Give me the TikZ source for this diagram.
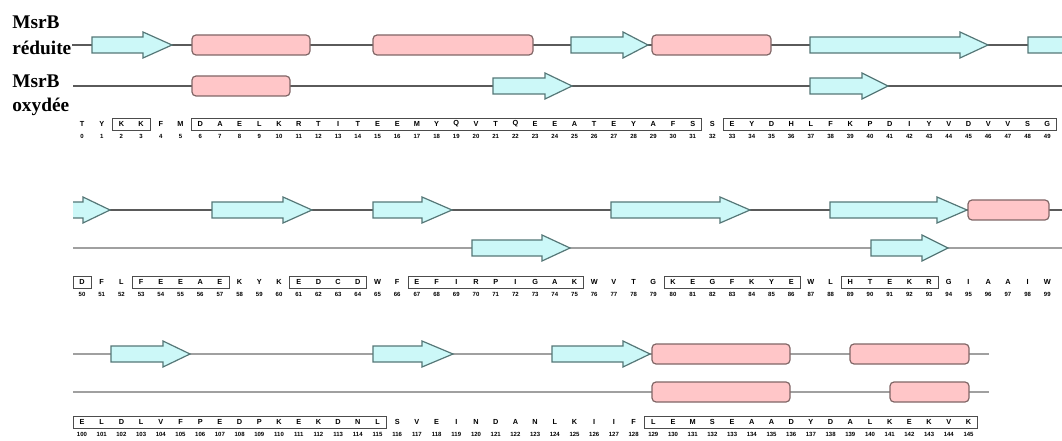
\documentclass[tikz,border=0pt]{standalone}
\usepackage{fontspec}
\setmainfont{Liberation Serif}
\newfontfamily\seqfont{Liberation Sans}
\definecolor{strandfill}{HTML}{CCF8F8}
\definecolor{strandline}{HTML}{557777}
\definecolor{helixfill}{HTML}{FFC6C8}
\definecolor{helixline}{HTML}{806666}
\definecolor{trackdark}{HTML}{5A5A5A}
\definecolor{tracklight}{HTML}{A0A0A0}
% x1, end of body, tip, track
\newcommand\strand[4]{\filldraw[strand] (#1,#4-8) -- (#2,#4-8) -- (#2,#4-13) -- (#3,#4) -- (#2,#4+13) -- (#2,#4+8) -- (#1,#4+8) -- cycle;}
\newcommand\helix[3]{\filldraw[helix] (#1,#3-10) rectangle (#2,#3+10);}
\newcommand\seqbox[2]{\draw[resbox] ({82+19.7*#1-9},\seqy-6) rectangle ({82+19.7*#2+9},\seqy+6);}
\newcommand\seqrow[4]{%
  \def\seqy{#2}%
  \foreach \aa [count=\i from 0] in {#4} {
    \pgfmathtruncatemacro\resnum{#3+\i}
    \node[res] (aa#1-\i) at ({82+19.7*\i},#2) {\aa};
    \node[num] (nb#1-\i) at ({82+19.7*\i},#2+12) {\resnum};
  }}
\begin{document}
\begin{tikzpicture}[x=0.75pt, y=-0.75pt,
  lab/.style={font=\fontsize{14.5}{16}\selectfont\bfseries, inner sep=0pt, anchor=base west},
  track/.style={trackdark, line width=0.9pt},
  lighttrack/.style={tracklight, line width=1.6pt},
  strand/.style={fill=strandfill, draw=strandline, line width=0.9pt, line join=miter},
  helix/.style={fill=helixfill, draw=helixline, line width=0.9pt, rounded corners=3pt},
  res/.style={font=\seqfont\bfseries\fontsize{5.5}{6}\selectfont, inner sep=0pt},
  num/.style={font=\seqfont\bfseries\fontsize{4.5}{5}\selectfont, inner sep=0pt},
  resbox/.style={draw=black!70, line width=0.6pt}]
\useasboundingbox (0,0) rectangle (1062,441);
\clip (0,0) rectangle (1062,441);
\node[lab] (red1) at (12,29) {MsrB};
\node[lab] (red2) at (12,55) {réduite};
\node[lab] (ox1) at (12,88) {MsrB};
\node[lab] (ox2) at (12,112) {oxydée};
\draw[track] (72,45) -- (1062,45);
\draw[track] (73,86) -- (1062,86);
\draw[track] (73,210) -- (1062,210);
\draw[lighttrack] (73,248) -- (1062,248);
\draw[lighttrack] (73,354) -- (989,354);
\draw[lighttrack] (73,392) -- (989,392);
\strand{92}{143}{172}{45}
\helix{192}{310}{45}
\helix{373}{533}{45}
\strand{571}{623}{648}{45}
\helix{652}{771}{45}
\strand{810}{960}{988}{45}
\strand{1028}{1090}{1117}{45}
\helix{192}{290}{86}
\strand{493}{545}{572}{86}
\strand{810}{862}{888}{86}
\fill[strandfill] (73,202) -- (83,202) -- (83,197) -- (110,210) -- (83,223) -- (83,218) -- (73,218) -- cycle;
\draw[strand] (73,202) -- (83,202) -- (83,197) -- (110,210) -- (83,223) -- (83,218) -- (73,218);
\strand{212}{283}{312}{210}
\strand{373}{422}{452}{210}
\strand{611}{720}{750}{210}
\strand{830}{937}{967}{210}
\helix{968}{1049}{210}
\strand{472}{542}{570}{248}
\strand{871}{922}{948}{248}
\strand{111}{163}{190}{354}
\strand{373}{422}{453}{354}
\strand{552}{623}{650}{354}
\helix{652}{790}{354}
\helix{850}{969}{354}
\helix{652}{790}{392}
\helix{890}{969}{392}
\seqrow{a}{124}{0}{T,Y,K,K,F,M,D,A,E,L,K,R,T,I,T,E,E,M,Y,Q,V,T,Q,E,E,A,T,E,Y,A,F,S,S,E,Y,D,H,L,F,K,P,D,I,Y,V,D,V,V,S,G}
\seqbox{2}{3}\seqbox{6}{31}\seqbox{33}{49}
\seqrow{b}{282}{50}{D,F,L,F,E,E,A,E,K,Y,K,E,D,C,D,W,F,E,F,I,R,P,I,G,A,K,W,V,T,G,K,E,G,F,K,Y,E,W,L,H,T,E,K,R,G,I,A,A,I,W}
\seqbox{0}{0}\seqbox{3}{7}\seqbox{11}{14}\seqbox{17}{25}\seqbox{30}{36}\seqbox{39}{43}
\seqrow{c}{422}{100}{E,L,D,L,V,F,P,E,D,P,K,E,K,D,N,L,S,V,E,I,N,D,A,N,L,K,I,I,F,L,E,M,S,E,A,A,D,Y,D,A,L,K,E,K,V,K}
\seqbox{0}{15}\seqbox{29}{45}
\end{tikzpicture}
\end{document}
